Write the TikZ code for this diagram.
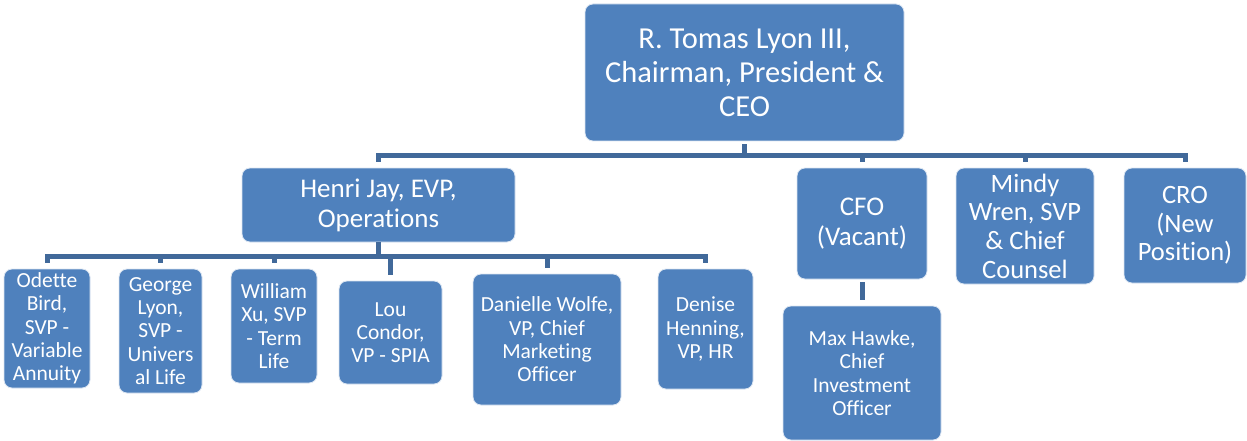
\documentclass[tikz,border=0pt]{standalone}
\usepackage{fontspec}
\setmainfont{Carlito}[Ligatures=NoCommon]
\definecolor{unitblue}{HTML}{4F81BD}
\definecolor{linkblue}{HTML}{41699A}
\tikzset{
  unit/.style={draw=white!80!unitblue, line width=0.8pt, fill=unitblue, text=white,
    rounded corners=8pt, align=center, inner sep=0pt},
  conn/.style={linkblue, line width=5pt},
  bus/.style={conn, line cap=rect},
  big/.style={font=\fontsize{30.5}{34}\selectfont},
  mid/.style={font=\fontsize{27}{30}\selectfont},
  midish/.style={font=\fontsize{26.5}{28.7}\selectfont},
  small/.style={font=\fontsize{21.5}{23.3}\selectfont}
}
\begin{document}
\begin{tikzpicture}[x=1pt,y=-1pt]
            \useasboundingbox (0,0) rectangle (1247,441);

            % top level
            \node[unit,big,minimum width=319pt,minimum height=137pt] (ceo) at (744.5,72.5)
                {R. Tomas Lyon III,\\Chairman, President \&\\CEO};

            % second level
            \node[unit,mid,minimum width=273pt,minimum height=74pt] (henri) at (378.5,205)
                {Henri Jay, EVP,\\Operations};
            \node[unit,mid,minimum width=130pt,minimum height=111pt] (cfo) at (862,223.5)
                {CFO\\(Vacant)};
            \node[unit,midish,minimum width=138pt,minimum height=116pt] (mindy) at (1025,226)
                {Mindy\\Wren, SVP\\\& Chief\\Counsel};
            \node[unit,midish,minimum width=122pt,minimum height=115pt] (cro) at (1185,225.5)
                {CRO\\(New\\Position)};

            % third level
            \node[unit,small,minimum width=158pt,minimum height=134pt] (max) at (862,373)
                {Max Hawke,\\Chief\\Investment\\Officer};
            \node[unit,small,minimum width=86pt,minimum height=119pt] (odette) at (47,328.5)
                {Odette\\Bird,\\SVP -\\Variable\\Annuity};
            \node[unit,small,minimum width=83pt,minimum height=124pt] (george) at (160.5,331)
                {George\\Lyon,\\SVP -\\Univers\\al Life};
            \node[unit,small,minimum width=86pt,minimum height=114pt] (william) at (274,326)
                {William\\Xu, SVP\\- Term\\Life};
            \node[unit,small,minimum width=103pt,minimum height=103pt] (lou) at (390.5,332.5)
                {Lou\\Condor,\\VP - SPIA};
            \node[unit,small,minimum width=148pt,minimum height=131pt] (danielle) at (547,339.5)
                {Danielle Wolfe,\\VP, Chief\\Marketing\\Officer};
            \node[unit,small,minimum width=95pt,minimum height=120pt] (denise) at (705.5,329)
                {Denise\\Henning,\\VP, HR};

            \coordinate (topbus) at (0,155);
            \coordinate (lowbus) at (0,256);

            % connectors
            \draw[conn,shorten <=3pt] (ceo.south) -- (ceo.south |- topbus);
            \draw[bus] (henri.north |- topbus) -- (cro.north |- topbus);
            \foreach \n in {henri,cfo,mindy,cro}
                \draw[conn,shorten >=6pt] (\n.north |- topbus) -- (\n.north);

            \draw[conn] (henri.south) -- (henri.south |- lowbus);
            \draw[bus] (odette.north |- lowbus) -- (denise.north |- lowbus);
            \foreach \n in {odette,george,william,lou,danielle,denise}
                \draw[conn,shorten >=6pt] (\n.north |- lowbus) -- (\n.north);

            \draw[conn,shorten <=3pt,shorten >=6pt] (cfo.south) -- (max.north);
        \end{tikzpicture}
\end{document}
